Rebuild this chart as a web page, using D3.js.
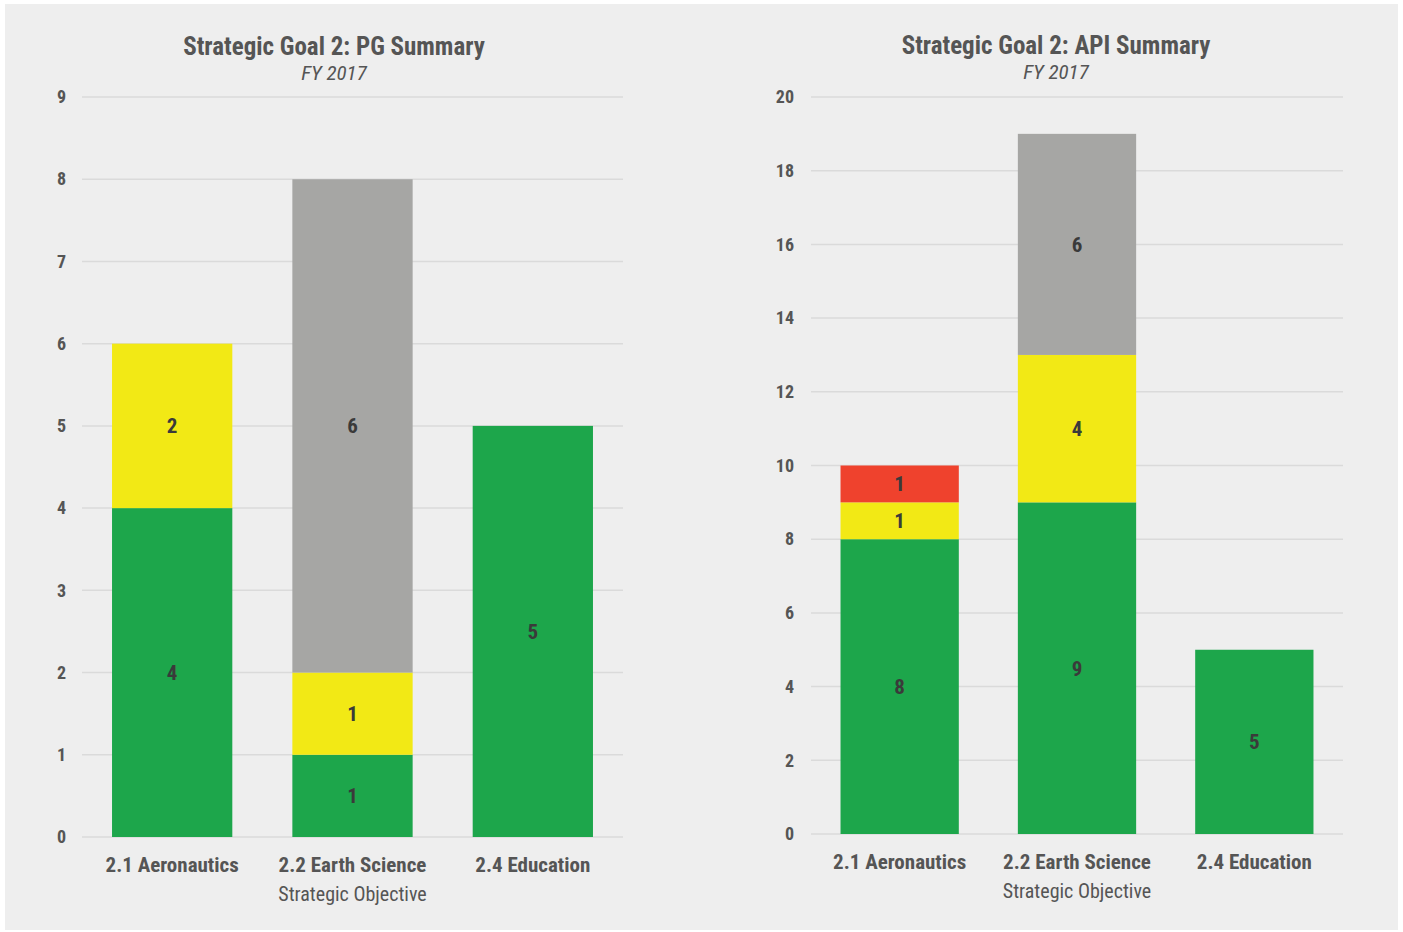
<!DOCTYPE html>
<html>
<head>
<meta charset="utf-8">
<script src="https://cdn.jsdelivr.net/npm/d3@7"></script>
<style>
  html, body { margin: 0; padding: 0; background: #ffffff; }
  svg { display: block; }
  text { font-family: "Liberation Sans Narrow", "Roboto Condensed", "Arial Narrow", Roboto, sans-serif; }
</style>
</head>
<body>
<svg id="chart" width="1403" height="932"></svg>
<script>
// Strategic objectives on the x axis (shared by both panels)
const categories = ["2.1 Aeronautics", "2.2 Earth Science", "2.4 Education"];

// Rating series, stacked bottom to top: Green, Yellow, Red, White/Gray
const seriesKeys = ["green", "yellow", "red", "gray"];

// Performance goals (PG) per objective
const pgGreen  = [4, 1, 5];
const pgYellow = [2, 1, 0];
const pgRed    = [0, 0, 0];
const pgGray   = [0, 6, 0];

// Annual performance indicators (API) per objective
const apiGreen  = [8, 9, 5];
const apiYellow = [1, 4, 0];
const apiRed    = [1, 0, 0];
const apiGray   = [0, 6, 0];

// y axis ticks
const pgTicks  = [0, 1, 2, 3, 4, 5, 6, 7, 8, 9];
const apiTicks = [0, 2, 4, 6, 8, 10, 12, 14, 16, 18, 20];

const colors = { green: "#1da64b", yellow: "#f2e915", red: "#ef422d", gray: "#a6a6a4" };

const svg = d3.select("#chart");

// light panel behind both charts
svg.append("rect").attr("x", 5).attr("y", 4).attr("width", 1393).attr("height", 926).attr("fill", "#eeeeee");

function buildRows(g, y, r, w) {
  return categories.map((c, i) => ({ cat: c, green: g[i], yellow: y[i], red: r[i], gray: w[i] }));
}

function drawPanel(opt) {
  const rows = buildRows(...opt.series);
  const x = d3.scaleBand().domain(categories).range([opt.x0, opt.x1]).paddingInner(0.333).paddingOuter(0.1665);
  const y = d3.scaleLinear().domain([0, opt.max]).range([opt.y0, opt.y1]);
  const g = svg.append("g");

  // horizontal gridlines
  g.append("g").selectAll("line").data(opt.ticks).join("line")
    .attr("x1", opt.x0).attr("x2", opt.x1)
    .attr("y1", d => y(d)).attr("y2", d => y(d))
    .attr("stroke", "#dadada").attr("stroke-width", 1.5);

  // y axis labels
  const yAxis = d3.axisLeft(y).tickValues(opt.ticks).tickSize(0).tickPadding(0);
  const ya = g.append("g").attr("transform", `translate(${opt.labelX},0)`).call(yAxis);
  ya.select(".domain").remove();
  ya.selectAll("text").attr("fill", "#555555").attr("font-size", 18).attr("font-weight", "bold")
    .style("font-family", null);

  // stacked bars
  const stack = d3.stack().keys(seriesKeys)(rows);
  const layers = g.append("g").selectAll("g").data(stack).join("g").attr("fill", d => colors[d.key]);
  layers.selectAll("rect").data(d => d.filter(s => s[1] - s[0] > 0)).join("rect")
    .attr("x", d => x(d.data.cat))
    .attr("width", x.bandwidth())
    .attr("y", d => y(d[1]))
    .attr("height", d => y(d[0]) - y(d[1]));

  // value labels in each segment
  const labels = [];
  stack.forEach(layer => layer.forEach(s => {
    const v = s[1] - s[0];
    if (v > 0) labels.push({ cat: s.data.cat, mid: (s[0] + s[1]) / 2, v });
  }));
  g.append("g").selectAll("text").data(labels).join("text")
    .attr("x", d => x(d.cat) + x.bandwidth() / 2)
    .attr("y", d => y(d.mid))
    .attr("dy", "0.36em")
    .attr("text-anchor", "middle")
    .attr("font-size", 21).attr("font-weight", "bold").attr("fill", "#3a3a3a")
    .text(d => d.v);

  // x axis category labels
  const xAxis = d3.axisBottom(x).tickSize(0).tickPadding(0);
  const xa = g.append("g").attr("transform", `translate(0,${opt.catY})`).call(xAxis);
  xa.select(".domain").remove();
  xa.selectAll("text").attr("fill", "#555555").attr("font-size", 21).attr("font-weight", "bold")
    .attr("dy", "0.36em").style("font-family", null);

  // axis title
  g.append("text").attr("x", (opt.x0 + opt.x1) / 2).attr("y", opt.catY + 30).attr("dy", "0.36em")
    .attr("text-anchor", "middle").attr("font-size", 20).attr("fill", "#555555").text("Strategic Objective");

  // chart title and subtitle
  g.append("text").attr("x", opt.titleX).attr("y", opt.titleY).attr("dy", "0.36em")
    .attr("text-anchor", "middle").attr("font-size", 25).attr("font-weight", "bold").attr("fill", "#555555")
    .text(opt.title);
  g.append("text").attr("x", opt.titleX).attr("y", opt.titleY + 26).attr("dy", "0.36em")
    .attr("text-anchor", "middle").attr("font-size", 21).attr("font-style", "italic").attr("fill", "#555555")
    .text("FY 2017");
}

drawPanel({
  series: [pgGreen, pgYellow, pgRed, pgGray],
  max: 9, ticks: pgTicks,
  x0: 82, x1: 623, y0: 837, y1: 97, labelX: 66,
  catY: 864, titleX: 334, titleY: 46,
  title: "Strategic Goal 2: PG Summary"
});

drawPanel({
  series: [apiGreen, apiYellow, apiRed, apiGray],
  max: 20, ticks: apiTicks,
  x0: 811, x1: 1343, y0: 834, y1: 97, labelX: 794,
  catY: 861, titleX: 1056, titleY: 45,
  title: "Strategic Goal 2: API Summary"
});
</script>
</body>
</html>
